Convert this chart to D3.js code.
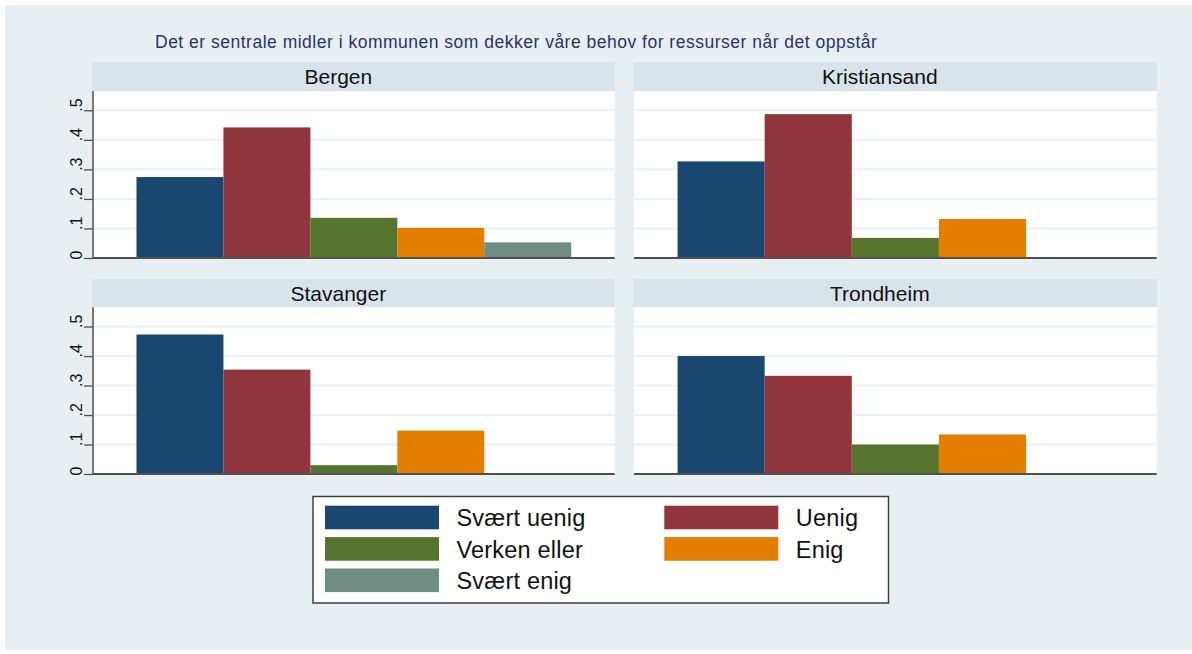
<!DOCTYPE html>
<html>
<head>
<meta charset="utf-8">
<script src="https://cdn.jsdelivr.net/npm/d3@7"></script>
<style>
  html, body { margin: 0; padding: 0; background: #ffffff; }
  svg { display: block; font-family: "Liberation Sans", Arial, sans-serif; }
</style>
</head>
<body>
<svg id="chart" width="1192" height="654"></svg>
<script>
// ---- Data ----
const title = "Det er sentrale midler i kommunen som dekker våre behov for ressurser når det oppstår";
const categories = ["Svært uenig", "Uenig", "Verken eller", "Enig", "Svært enig"];
const cities = ["Bergen", "Kristiansand", "Stavanger", "Trondheim"];
const bergen = [0.274, 0.442, 0.136, 0.102, 0.053];
const kristiansand = [0.327, 0.487, 0.068, 0.132, 0];
const stavanger = [0.473, 0.354, 0.030, 0.147, 0];
const trondheim = [0.400, 0.333, 0.100, 0.134, 0];
const yTickValues = [0, 0.1, 0.2, 0.3, 0.4, 0.5];
const yTickLabels = ["0", ".1", ".2", ".3", ".4", ".5"];
const colors = ["#1a476f", "#90353b", "#55752f", "#e37e00", "#6e8e84"];

const seriesByCity = { Bergen: bergen, Kristiansand: kristiansand, Stavanger: stavanger, Trondheim: trondheim };

// ---- Layout ----
const svg = d3.select("#chart");
svg.append("rect").attr("x", 5).attr("y", 5).attr("width", 1187).attr("height", 645).attr("fill", "#e8eff2");

svg.append("text")
  .attr("x", 155).attr("y", 48)
  .attr("font-size", 17.5)
  .attr("letter-spacing", 0.5)
  .attr("fill", "#27346a")
  .text(title);

const cols = [{ x0: 93, x1: 614.7 }, { x0: 634, x1: 1156.7 }];
const rows = [{ h0: 62, top: 91, base: 258 }, { h0: 279, top: 307.3, base: 474 }];
const yMax = 0.5653;

cities.forEach((city, i) => {
  const c = cols[i % 2], r = rows[Math.floor(i / 2)];
  const g = svg.append("g");
  const w = c.x1 - c.x0;

  // header strip
  g.append("rect").attr("x", c.x0 - 1).attr("y", r.h0).attr("width", w + 1).attr("height", r.top - r.h0).attr("fill", "#d8e4ea");
  g.append("text")
    .attr("x", (c.x0 - 31 + c.x1) / 2).attr("y", r.h0 + 21.5)
    .attr("text-anchor", "middle").attr("font-size", 21).attr("fill", "#111")
    .text(city);

  // plot area
  g.append("rect").attr("x", c.x0).attr("y", r.top).attr("width", w).attr("height", r.base - r.top).attr("fill", "#ffffff");

  const x = d3.scaleBand().domain(categories).range([c.x0, c.x1]).paddingInner(0).paddingOuter(0.5);
  const y = d3.scaleLinear().domain([0, yMax]).range([r.base, r.top]);

  // gridlines
  g.selectAll("line.grid").data(yTickValues.filter(v => v > 0)).join("line")
    .attr("x1", c.x0).attr("x2", c.x1)
    .attr("y1", d => y(d)).attr("y2", d => y(d))
    .attr("stroke", "#eaf1f4").attr("stroke-width", 2);

  // bars
  const vals = seriesByCity[city];
  g.selectAll("rect.bar").data(categories.map((k, j) => ({ k, v: vals[j], j })).filter(d => d.v > 0)).join("rect")
    .attr("class", "bar")
    .attr("x", d => x(d.k)).attr("width", x.bandwidth())
    .attr("y", d => y(d.v)).attr("height", d => r.base - y(d.v))
    .attr("fill", d => colors[d.j]);

  // baseline (x axis)
  g.append("line").attr("x1", c.x0).attr("x2", c.x1).attr("y1", r.base).attr("y2", r.base)
    .attr("stroke", "#505050").attr("stroke-width", 2);

  // y axis only on left column
  if (i % 2 === 0) {
    const axis = d3.axisLeft(y).tickValues(yTickValues).tickSize(9).tickFormat((d, k) => yTickLabels[k]);
    const ag = g.append("g").attr("transform", `translate(${c.x0},0)`).call(axis);
    ag.select(".domain").attr("stroke", "#505050").attr("stroke-width", 1.5)
      .attr("d", `M0,${r.top}V${r.base}`);
    ag.selectAll(".tick line").attr("stroke", "#505050").attr("stroke-width", 1.3);
    ag.selectAll(".tick text")
      .attr("font-size", 16).attr("fill", "#111")
      .attr("font-family", '"Liberation Sans", Arial, sans-serif')
      .attr("text-anchor", "start")
      .attr("dy", null).attr("x", null)
      .attr("transform", "translate(-11,1) rotate(-90)");
  }
});

// ---- Legend ----
const lg = svg.append("g");
lg.append("rect").attr("x", 313).attr("y", 496.5).attr("width", 575.5).attr("height", 106.5)
  .attr("fill", "#ffffff").attr("stroke", "#404040").attr("stroke-width", 1.5);
const legCols = [325, 664.3];
categories.forEach((k, j) => {
  const col = j % 2, row = Math.floor(j / 2);
  const sx = legCols[col], sy = 505.7 + row * 31.4;
  lg.append("rect").attr("x", sx).attr("y", sy).attr("width", 114).attr("height", 23.6).attr("fill", colors[j]);
  lg.append("text").attr("x", sx + 131.5).attr("y", sy + 20.5)
    .attr("font-size", 23.5).attr("letter-spacing", 0.2).attr("fill", "#111").text(k);
});
</script>
</body>
</html>
